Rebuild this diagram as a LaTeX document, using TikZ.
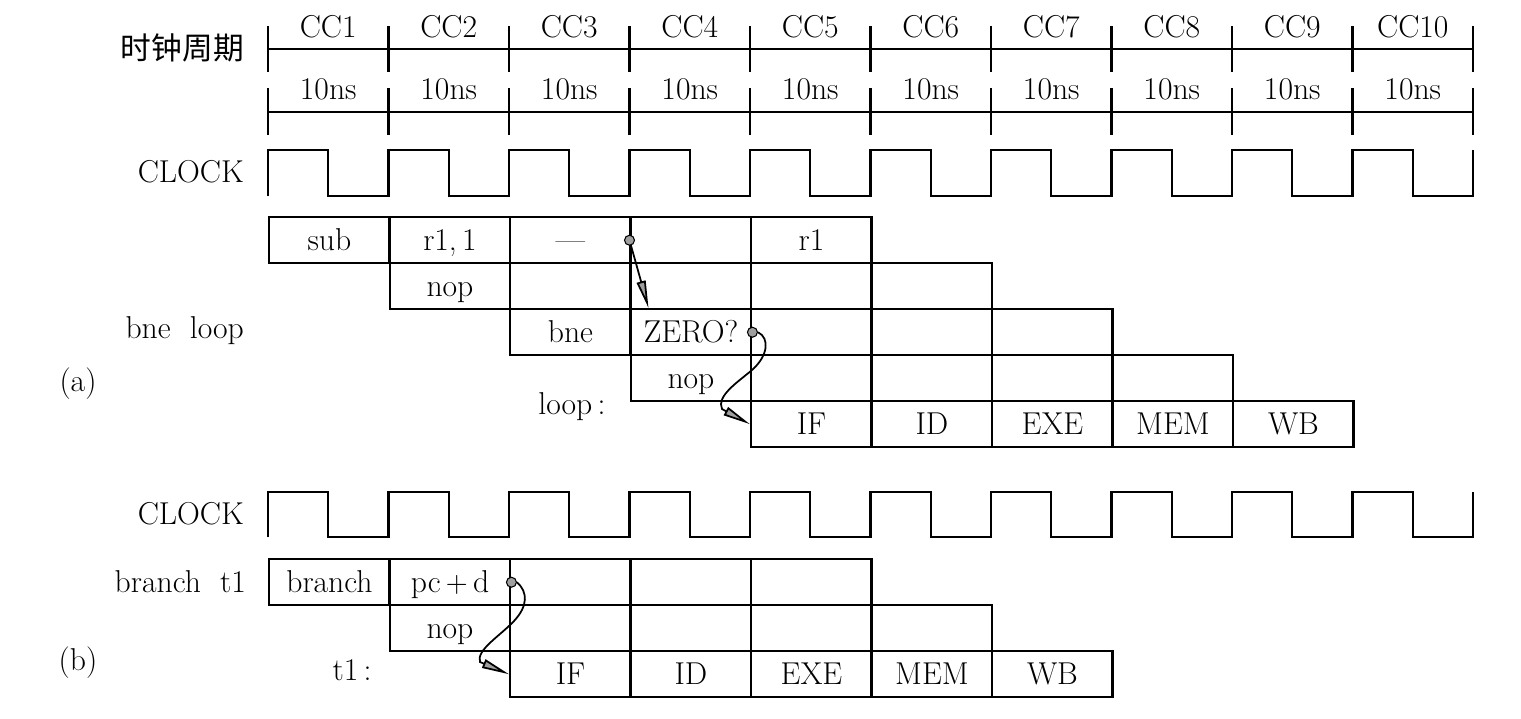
\documentclass[tikz,border=0pt]{standalone}
\usepackage{fontspec}
\newfontfamily\cjk{Noto Sans CJK SC}
\usetikzlibrary{arrows.meta,positioning}
\begin{document}
\begin{tikzpicture}[x=0.02cm,y=-0.02cm,line width=1.4pt,
	font=\fontsize{18}{20}\selectfont,
	cell/.style={draw,anchor=north west,minimum width=2.41cm,minimum height=0.92cm,inner sep=0pt,text height=12pt,text depth=0pt},
	lbl/.style={inner sep=0pt},
	dot/.style={circle,draw,fill=gray!75,inner sep=0pt,minimum size=0.2cm,line width=0.6pt},
	arr/.style={-{Triangle[length=0.55cm,width=0.18cm,fill=gray!75]},line width=1pt}]
	\useasboundingbox (0,0) rectangle (1521,718);
	%thang thoi gian
	\draw (268,49) -- (1473,49) (268,112) -- (1473,112);
	\foreach \i in {0,...,10}
	\draw ({268+120.5*\i},26) -- ++(0,46) ({268+120.5*\i},88) -- ++(0,47);
	\foreach \i in {1,...,10}{
		\node[lbl] (cc\i) at ({268+120.5*(\i-0.5)},27) {CC\i};
		\node[lbl] (ns\i) at ({268+120.5*(\i-0.5)},89) {10ns};
	}
	\node[lbl,anchor=east] (zq) at (245,48) {\cjk\fontsize{17.5}{20}\selectfont 时钟周期};
	%xung clock
	\foreach \yh/\yl in {150/196,492/537}
	\draw (268,\yl) \foreach \i in {0,...,9}{ -- ++(0,\yh-\yl) -- ++(60.25,0) -- ++(0,\yl-\yh) -- ++(60.25,0)} -- ++(0,\yh-\yl);
	\node[lbl,anchor=east] (clka) at (245,172) {CLOCK};
	\node[lbl,anchor=east] (clkb) at (245,514) {CLOCK};
	%(a)
	\foreach \t [count=\i from 0] in {sub,{r1,\,1},---,{},r1}
	\node[cell] (a0\i) at ({268+120.5*\i},216) {\t};
	\foreach \t [count=\i from 0] in {nop,{},{},{},{}}
	\node[cell] (a1\i) at ({388.5+120.5*\i},262) {\t};
	\foreach \t [count=\i from 0] in {bne,ZERO?,{},{},{}}
	\node[cell] (a2\i) at ({509+120.5*\i},308) {\t};
	\foreach \t [count=\i from 0] in {nop,{},{},{},{}}
	\node[cell] (a3\i) at ({629.5+120.5*\i},354) {\t};
	\foreach \t [count=\i from 0] in {IF,ID,EXE,MEM,WB}
	\node[cell] (a4\i) at ({750+120.5*\i},400) {\t};
	\node[lbl,anchor=east] (bl) at (245,331) {bne\ \ loop};
	\node[lbl] (la) at (78,384) {(a)};
	\node[lbl] (lp) at (572,407) {loop\,:};
	\node[dot] (d1) at (a03.west) {};
	\draw[arr] (d1) -- ([xshift=0.38cm]a21.north west);
	\node[dot] (d2) at (a21.east) {};
	\draw[arr] (d2.east) .. controls (770,338) and (768,356) .. (752,370)
	.. controls (738,382) and (716,396) .. (722,409) -- (a40.west);
	%(b)
	\foreach \t [count=\i from 0] in {branch,pc\,$+$\,d,{},{},{}}
	\node[cell] (b0\i) at ({268+120.5*\i},558) {\t};
	\foreach \t [count=\i from 0] in {nop,{},{},{},{}}
	\node[cell] (b1\i) at ({388.5+120.5*\i},604) {\t};
	\foreach \t [count=\i from 0] in {IF,ID,EXE,MEM,WB}
	\node[cell] (b2\i) at ({509+120.5*\i},650) {\t};
	\node[lbl,anchor=east] (bt) at (247,582) {branch\ \ t1};
	\node[lbl] (lb) at (78,663) {(b)};
	\node[lbl] (lt) at (352,670) {t1\,:};
	\node[dot] (d3) at (b01.east) {};
	\draw[arr] (d3.east) .. controls (528,592) and (528,606) .. (514,621)
	.. controls (500,636) and (476,650) .. (480,662) -- (b20.west);
\end{tikzpicture}
\end{document}
